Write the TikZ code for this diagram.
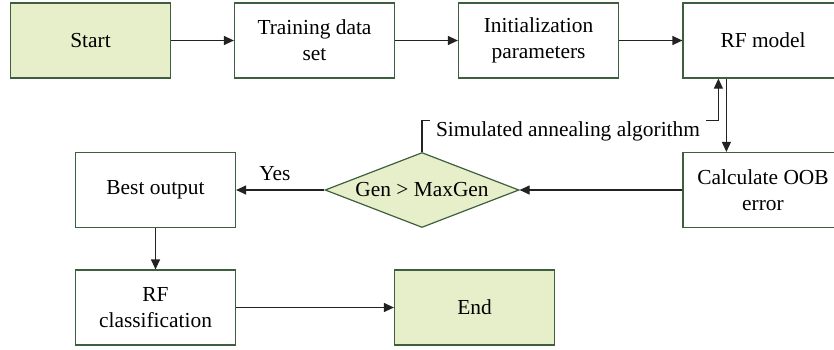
\documentclass[tikz,border=0pt]{standalone}
\usepackage{fontspec}
\setmainfont{Liberation Serif}
\usepackage{xcolor}
\usetikzlibrary{arrows.meta,shapes.geometric}
\definecolor{boxline}{HTML}{3E5F3E}
\definecolor{boxfill}{HTML}{E6EFC9}
\definecolor{arrline}{HTML}{222222}

\begin{document}
\begin{tikzpicture}[x=0.5pt,y=-0.5pt,
		font=\fontsize{10.7}{13}\selectfont,
		block/.style={draw=boxline,line width=0.6pt,minimum width=80pt,minimum height=37.5pt,inner sep=2pt,align=center},
		termbox/.style={block,fill=boxfill},
		decide/.style={diamond,draw=boxline,fill=boxfill,line width=0.6pt,aspect=2.6,inner sep=0pt,minimum width=97pt,minimum height=37.5pt},
		link/.style={draw=arrline,line width=0.6pt,-{Triangle[length=5pt,width=4.5pt]}}]
			\useasboundingbox (0,0) rectangle (834,349);
			\node[termbox] (start) at (90.5,40.5) {Start};
			\node[block] (train) at (314.5,40.5) {Training data\\set};
			\node[block] (init) at (538.5,40.5) {Initialization\\parameters};
			\node[block] (rf) at (763,40.5) {RF model};
			\node[block] (oob) at (763,190) {Calculate OOB\\error};
			\node[decide] (gen) at (422,190) {Gen > MaxGen};
			\node[block] (best) at (155.5,190) {Best output};
			\node[block] (rfc) at (155.5,307.5) {RF\\classification};
			\node[termbox] (end) at (474.5,307.5) {End};
			\node[inner xsep=3pt,inner ysep=0pt] (sa) at (568,131) {Simulated annealing algorithm};
			\node (yes) at (275,174) {Yes};
			\draw[link] (start) -- (train);
			\draw[link] (train) -- (init);
			\draw[link] (init) -- (rf);
			\draw[link] ([xshift=22pt]rf.south west) -- ([xshift=22pt]oob.north west);
			\draw[link] (oob) -- (gen);
			\draw[link] (gen) -- (best);
			\draw[link] (best) -- (rfc);
			\draw[link] (rfc) -- (end);
			\draw[draw=arrline,line width=0.6pt] (gen.north) |- (sa.north west);
			\draw[link] (sa.north east) -| ([xshift=18pt]rf.south west);
		\end{tikzpicture}
\end{document}
